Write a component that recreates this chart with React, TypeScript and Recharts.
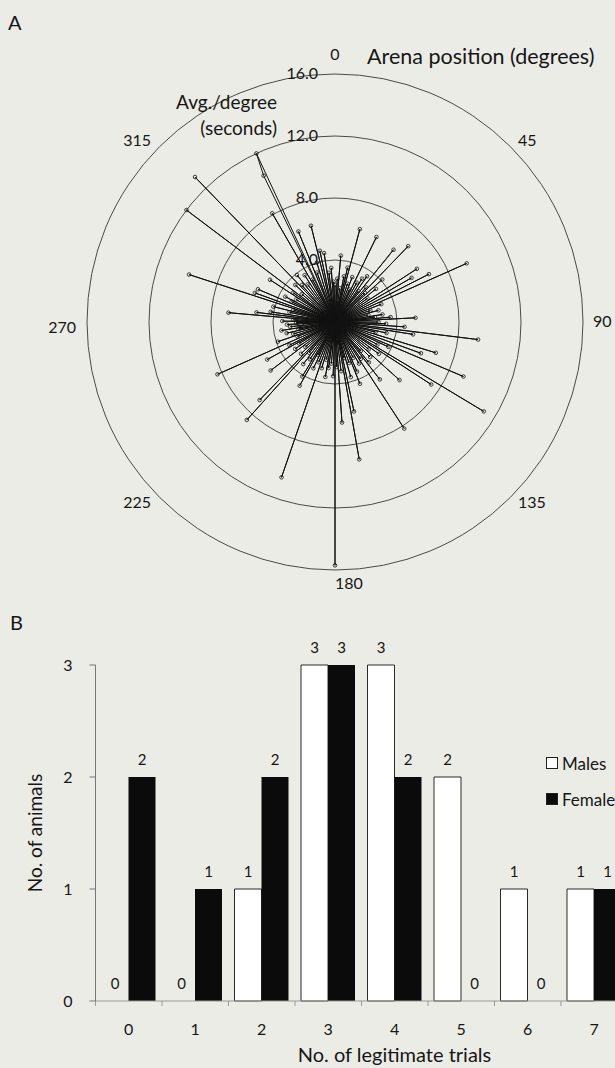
import React from "react";
import {
  RadarChart,
  Radar,
  PolarGrid,
  PolarAngleAxis,
  PolarRadiusAxis,
  BarChart,
  Bar,
  Cell,
  XAxis,
  YAxis,
  LabelList,
  Legend,
} from "recharts";

const FONT = "Lato, 'Open Sans', sans-serif";
const BG = "#ecece6";
const INK = "#161616";

// Panel A: degrees (clockwise from 0) that have a non-zero average, and that average in seconds
const spokeDegrees = [
  0, 3, 5, 8, 11, 13, 15, 18, 21, 24, 26, 29, 32, 35, 37, 39, 42, 44, 46, 48,
  51, 54, 57, 60, 63, 66, 69, 72, 75, 78, 81, 83, 85, 87, 90, 92, 94, 97, 99,
  102, 104, 107, 110, 113, 115, 118, 121, 123, 126, 129, 132, 135, 138, 140,
  142, 145, 147, 150, 153, 156, 158, 161, 164, 166, 168, 170, 173, 176, 178,
  180, 182, 185, 188, 190, 193, 196, 199, 202, 205, 207, 209, 211, 214, 217,
  220, 222, 224, 227, 230, 233, 236, 239, 241, 243, 246, 249, 251, 254, 257,
  259, 261, 264, 267, 269, 271, 273, 275, 277, 279, 282, 284, 286, 288, 290,
  293, 295, 297, 300, 303, 305, 307, 310, 313, 316, 318, 321, 324, 327, 330,
  332, 334, 335, 338, 340, 343, 346, 348, 351, 353, 356, 358,
];
const spokeSeconds = [
  2.4, 2.8, 4.3, 2.2, 3.0, 3.6, 6.2, 2.6, 3.1, 2.3, 6.1, 2.9, 3.3, 3.6, 2.5, 6.0, 3.0, 6.8, 2.7, 4.1,
  3.4, 2.6, 6.3, 5.7, 6.8, 9.3, 3.2, 2.4, 2.9, 2.2, 3.1, 2.6, 3.6, 5.2, 2.8, 3.3, 4.5, 9.3, 5.1,
  3.4, 2.7, 6.8, 5.9, 9.0, 3.8, 3.1, 11.2, 7.4, 3.5, 2.8, 5.6, 3.2, 2.5, 3.4,
  4.7, 2.9, 8.2, 3.1, 2.6, 3.5, 4.3, 2.8, 3.7, 2.4, 5.9, 9.0, 3.2, 6.5, 2.9,
  15.7, 3.5, 2.7, 3.0, 3.6, 2.5, 3.1, 10.6, 2.8, 3.3, 2.4, 4.7, 4.1, 2.9, 3.4,
  2.6, 8.5, 7.0, 3.0, 2.5, 5.2, 3.1, 2.7, 5.0, 3.3, 8.3, 2.6, 3.9, 2.8, 3.2,
  2.4, 3.5, 2.9, 3.1, 2.5, 3.4, 2.7, 6.9, 5.1, 4.2, 3.0, 4.1, 2.8, 9.9, 5.5,
  5.4, 3.1, 3.6, 2.9, 5.0, 3.3, 12.0, 2.8, 3.5, 13.0, 3.2, 3.9, 3.0, 3.6, 8.1,
  3.1, 10.5, 12.0, 6.3, 3.4, 4.0, 6.4, 4.7, 4.5, 3.2, 3.5, 2.6,
];
const compassLabels = [0, 45, 90, 135, 180, 225, 270, 315];

// Panel B
const trialCounts = ["0", "1", "2", "3", "4", "5", "6", "7"];
const males = [0, 0, 1, 3, 3, 2, 1, 1];
const females = [2, 1, 2, 3, 2, 0, 0, 1];
const animalTicks = [0, 1, 2, 3];
const seriesOrder = ["Males", "Females"];

const radarData = Array.from({ length: 360 }, (_, deg) => {
  const i = spokeDegrees.indexOf(deg);
  return { deg, avg: i >= 0 ? spokeSeconds[i] : 0 };
});

const barData = trialCounts.map((t, i) => ({
  trials: t,
  Males: males[i],
  Females: females[i],
}));

function AngleTick(props: any) {
  const { x, y, payload, textAnchor } = props;
  const v = Number(payload.value);
  if (!compassLabels.includes(v)) return <g />;
  let anchor = textAnchor;
  let dx = 0;
  let dy = 5;
  if (v === 0) dy = -6;
  if (v === 180) {
    anchor = "start";
    dy = 11;
  }
  if (v === 270) dy = 11;
  if (anchor === "end") dx = -3;
  if (anchor === "start" && v !== 180) dx = 2;
  return (
    <text x={x} y={y} dx={dx} dy={dy} textAnchor={anchor} fontSize={16} fontFamily={FONT} fill={INK}>
      {v}
    </text>
  );
}

function RadiusTick(props: any) {
  const { x, y, payload } = props;
  return (
    <text x={x} y={y} dx={-17} dy={5} textAnchor="end" fontSize={16} fontFamily={FONT} fill={INK}>
      {Number(payload.value).toFixed(1)}
    </text>
  );
}

function TrialTick(props: any) {
  const { x, y, payload } = props;
  return (
    <g>
      <line x1={x - 33.25} x2={x - 33.25} y1={y} y2={y + 5} stroke="#999" />
      <text x={x} y={y} dy={34} textAnchor="middle" fontSize={16} fontFamily={FONT} fill={INK}>
        {payload.value}
      </text>
    </g>
  );
}

function CountLabel(props: any) {
  const { x, y, width, value } = props;
  return (
    <text
      x={Number(x) + Number(width) / 2}
      y={Number(y)}
      dy={-12}
      textAnchor="middle"
      fontSize={15}
      fontFamily={FONT}
      fill={INK}
    >
      {Number(value)}
    </text>
  );
}

function SexLegend(props: any) {
  const items = [...(props.payload || [])].sort(
    (a: any, b: any) => seriesOrder.indexOf(a.value) - seriesOrder.indexOf(b.value)
  );
  return (
    <div style={{ fontFamily: FONT, fontSize: 17, color: INK }}>
      {items.map((p: any) => (
        <div key={p.value} style={{ display: "flex", alignItems: "center", height: 36, whiteSpace: "nowrap" }}>
          <span
            style={{
              display: "inline-block",
              width: 10,
              height: 10,
              background: p.color,
              border: "1px solid #222",
              marginRight: 4,
            }}
          />
          {p.value}
        </div>
      ))}
    </div>
  );
}

const textStyle: React.CSSProperties = {
  position: "absolute",
  fontFamily: FONT,
  color: INK,
  whiteSpace: "nowrap",
  lineHeight: 1,
};

export default function App() {
  return (
    <div
      style={{
        position: "absolute",
        left: 0,
        top: 0,
        width: 615,
        height: 1068,
        overflow: "hidden",
        background: BG,
        fontFamily: FONT,
      }}
    >
      <div style={{ ...textStyle, left: 8, top: 12, fontSize: 20 }}>A</div>
      <div style={{ ...textStyle, left: 10, top: 612, fontSize: 20 }}>B</div>

      <div style={{ position: "absolute", left: 0, top: 0 }}>
        <RadarChart
          width={615}
          height={600}
          cx={335}
          cy={322}
          outerRadius={248}
          data={radarData}
          margin={{ top: 0, right: 0, bottom: 0, left: 0 }}
        >
          <PolarGrid gridType="circle" radialLines={false} stroke="#4a4a4a" />
          <PolarAngleAxis dataKey="deg" tick={AngleTick} tickLine={false} axisLine={false} />
          <PolarRadiusAxis
            angle={90}
            domain={[0, 16]}
            tickCount={5}
            type="number"
            axisLine={false}
            tick={RadiusTick}
          />
          <Radar
            dataKey="avg"
            stroke="#111"
            strokeWidth={1}
            fill="none"
            fillOpacity={0}
            dot={{ r: 1.8, fill: "#555", stroke: "#111", strokeWidth: 0.8 }}
            isAnimationActive={false}
          />
        </RadarChart>
      </div>
      <div style={{ ...textStyle, left: 367, top: 46, fontSize: 21.5 }}>Arena position (degrees)</div>
      <div style={{ ...textStyle, left: 150, width: 127, top: 92, fontSize: 19, textAlign: "right" }}>
        Avg./degree
      </div>
      <div style={{ ...textStyle, left: 150, width: 127, top: 118, fontSize: 19, textAlign: "right" }}>
        (seconds)
      </div>

      <div style={{ position: "absolute", left: 0, top: 600 }}>
        <BarChart
          width={700}
          height={468}
          data={barData}
          barGap={0}
          margin={{ top: 65, right: 72.5, bottom: 0, left: 0 }}
        >
          <XAxis
            dataKey="trials"
            height={67}
            tickSize={0}
            tickMargin={0}
            tick={TrialTick}
            axisLine={{ stroke: "#999" }}
            label={{
              value: "No. of legitimate trials",
              position: "insideBottom",
              offset: 6,
              dx: 33,
              fontSize: 20,
              fontFamily: FONT,
              fill: INK,
            }}
          />
          <YAxis
            width={95.5}
            domain={[0, 3]}
            ticks={animalTicks}
            tickSize={6}
            tickMargin={17}
            axisLine={{ stroke: "#777" }}
            tickLine={{ stroke: "#777" }}
            tick={{ fontSize: 16, fontFamily: FONT, fill: INK }}
            label={{
              value: "No. of animals",
              angle: -90,
              position: "insideLeft",
              offset: 35,
              fontSize: 19,
              fontFamily: FONT,
              fill: INK,
              style: { textAnchor: "middle" },
            }}
          />
          <Legend
            layout="horizontal"
            verticalAlign="middle"
            align="center"
            wrapperStyle={{ left: 546, top: 145, width: 160 }}
            content={SexLegend}
          />
          <Bar
            dataKey="Males"
            fill="#ffffff"
            stroke="#2a2a2a"
            strokeWidth={1}
            barSize={27}
            minPointSize={0.01}
            isAnimationActive={false}
          >
            {males.map((v, i) => (
              <Cell key={`m${i}`} stroke={v > 0 ? "#2a2a2a" : "none"} />
            ))}
            <LabelList dataKey="Males" content={CountLabel} />
          </Bar>
          <Bar dataKey="Females" fill="#0b0b0b" barSize={27} minPointSize={0.01} isAnimationActive={false}>
            {females.map((v, i) => (
              <Cell key={`f${i}`} fill={v > 0 ? "#0b0b0b" : "none"} />
            ))}
            <LabelList dataKey="Females" content={CountLabel} />
          </Bar>
        </BarChart>
      </div>
    </div>
  );
}
